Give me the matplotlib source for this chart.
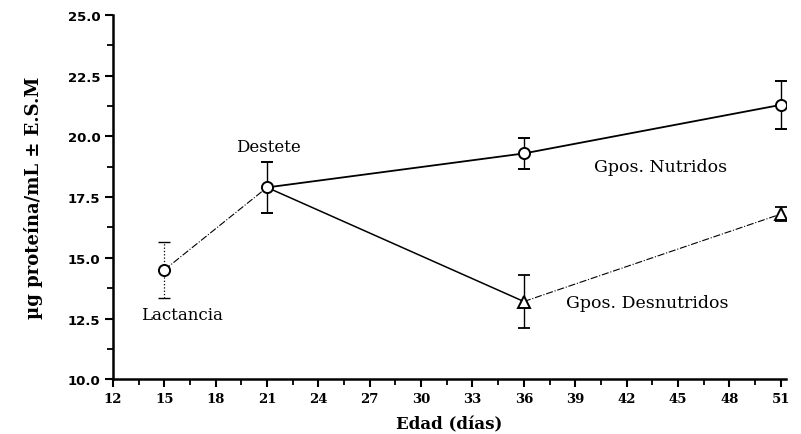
import numpy as np
import matplotlib.pyplot as plt
from matplotlib.ticker import MultipleLocator

# Lactancia -> Destete
lact_x = [15, 21]
lact_y = [14.5, 17.9]
lact_err = [1.15, 1.05]

# Grupos nutridos (desde el destete)
nut_x = [21, 36, 51]
nut_y = [17.9, 19.3, 21.3]
nut_err = [1.05, 0.65, 1.0]

# Grupos desnutridos
des_x = [21, 36, 51]
des_y = [17.9, 13.2, 16.8]
des_err = [1.05, 1.1, 0.3]

xticks = list(range(12, 52, 3))
yticks = [10.0, 12.5, 15.0, 17.5, 20.0, 22.5, 25.0]

serif = ['DejaVu Serif']

fig = plt.figure(figsize=(8.01, 4.35), dpi=100)
ax = fig.add_axes([0.141, 0.126, 0.84, 0.837])

# lactancia: dash-dot line, dotted error bar at day 15
ax.plot(lact_x, lact_y, color='black', lw=0.8, ls='-.')
eb = ax.errorbar(lact_x[:1], lact_y[:1], yerr=lact_err[:1], fmt='none',
                 ecolor='black', elinewidth=0.9, capsize=4.5, capthick=1)
eb[2][0].set_linestyle(':')
ax.plot(lact_x[:1], lact_y[:1], marker='o', ms=8, mfc='white',
        mec='black', mew=1.4, ls='none', zorder=5)

# nutridos
ax.errorbar(nut_x, nut_y, yerr=nut_err, fmt='-o', color='black', lw=1.3,
            ms=8, mfc='white', mec='black', mew=1.4, capsize=4.5,
            elinewidth=1, capthick=1.3, zorder=4)

# desnutridos: solid then dash-dot
ax.plot(des_x[:2], des_y[:2], color='black', lw=1.1)
ax.plot(des_x[1:], des_y[1:], color='black', lw=0.8, ls='-.')
ax.errorbar(des_x[1:], des_y[1:], yerr=des_err[1:], fmt='none',
            ecolor='black', elinewidth=1, capsize=4.5, capthick=1.3)
ax.plot(des_x[1:], des_y[1:], marker='^', ms=8, mfc='white',
        mec='black', mew=1.4, ls='none', zorder=5)

ax.text(21.1, 19.6, 'Destete', ha='center', va='center', fontsize=12,
        family=serif)
ax.text(16.05, 12.68, 'Lactancia', ha='center', va='center', fontsize=12,
        family=serif)
ax.text(44.0, 18.78, 'Gpos. Nutridos', ha='center', va='center',
        fontsize=12.5, family=serif)
ax.text(43.2, 13.17, 'Gpos. Desnutridos', ha='center', va='center',
        fontsize=12.5, family=serif)

ax.set_xlim(12, 51.3)
ax.set_ylim(10, 25)
ax.set_xticks(xticks)
ax.set_yticks(yticks)
ax.set_yticklabels([f'{v:.1f}' for v in yticks], fontweight='bold',
                   fontsize=9.5, family=['DejaVu Sans'])
ax.set_xticklabels([str(v) for v in xticks], fontweight='bold',
                   fontsize=9.5, family=serif)
ax.xaxis.set_minor_locator(MultipleLocator(1.5))
ax.yaxis.set_minor_locator(MultipleLocator(1.25))
ax.tick_params(which='major', direction='out', length=6, width=1.5, pad=3)
ax.tick_params(which='minor', direction='out', length=4, width=1.3)

for s in ['top', 'right']:
    ax.spines[s].set_visible(False)
for s in ['left', 'bottom']:
    ax.spines[s].set_linewidth(1.8)

ax.set_xlabel('Edad (días)', fontsize=12, fontweight='bold', family=serif,
              labelpad=8)
ax.set_ylabel('µg proteína/mL ± E.S.M', fontsize=13, fontweight='bold',
              family=serif, labelpad=18)

fig.savefig('out.png', dpi=100)
